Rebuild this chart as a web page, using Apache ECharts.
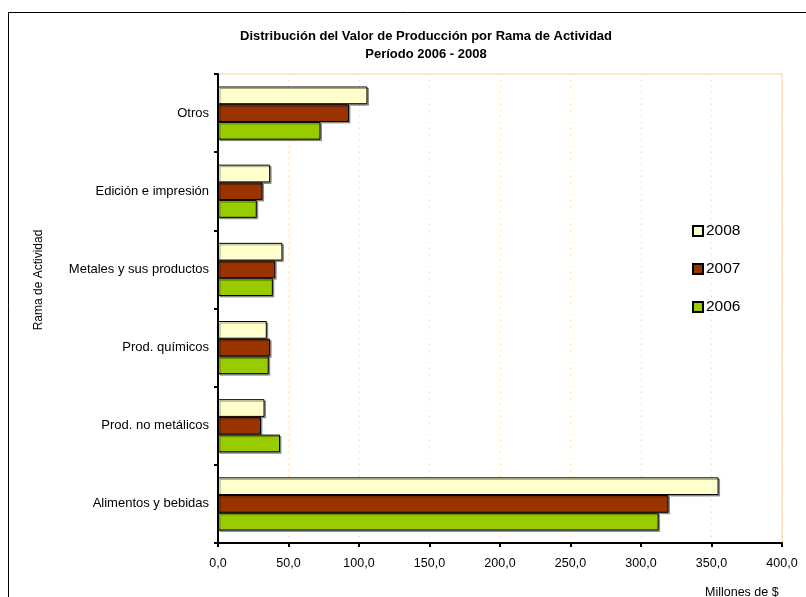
<!DOCTYPE html>
<html><head><meta charset="utf-8">
<script src="https://cdn.jsdelivr.net/npm/echarts@6/dist/echarts.min.js"></script>
<style>html,body{margin:0;padding:0;background:#fff}#c{width:806px;height:597px}</style>
</head><body><div id="c"></div>
<script>
const categories = ['Alimentos y bebidas', 'Prod. no metálicos', 'Prod. químicos', 'Metales y sus productos', 'Edición e impresión', 'Otros'];
const v2006 = [312.5, 44, 36, 38.9, 27.5, 72.7];
const v2007 = [319.5, 30.5, 37, 40.6, 31.6, 92.9];
const v2008 = [355, 33, 34.6, 45.7, 37, 106];
const xTicks = { min: 0, max: 400, interval: 50 };

const chart = echarts.init(document.getElementById('c'), null, { renderer: 'canvas' });
const F = '"Liberation Sans", Arial, sans-serif';
function barSeries(name, data, color) {
  return {
    name, type: 'bar', data, barGap: '0%', barCategoryGap: '32%',
    itemStyle: { color, borderColor: '#000', borderWidth: 1,
      shadowColor: 'rgba(0,0,0,0.35)', shadowOffsetX: 1.5, shadowOffsetY: 1.5, shadowBlur: 0 }
  };
}
chart.setOption({
  animation: false,
  backgroundColor: '#fff',
  title: {
    text: 'Distribución del Valor de Producción por Rama de Actividad\nPeríodo 2006 - 2008',
    left: 421, top: 22, textAlign: 'center',
    textStyle: { fontFamily: F, fontSize: 13, fontWeight: 'bold', color: '#000', lineHeight: 18 }
  },
  graphic: [
    { type: 'rect', shape: { x: 8.5, y: 12.5, width: 820, height: 620 }, style: { fill: 'none', stroke: '#000', lineWidth: 1 }, z: -1 },
    { type: 'text', x: 705, y: 586, style: { text: 'Millones de $', font: '12.5px ' + F, fill: '#000' } },
    { type: 'text', x: 39, y: 280, rotation: Math.PI / 2,
      style: { text: 'Rama de Actividad', font: '12px ' + F, fill: '#000', align: 'center', verticalAlign: 'middle' } }
  ],
  legend: {
    data: ['2008', '2007', '2006'], orient: 'vertical', left: 687, top: 218,
    itemWidth: 10, itemHeight: 10, itemGap: 22,
    textStyle: { fontFamily: F, fontSize: 15.5, color: '#000', padding: [0, 0, 0, -2] },
    icon: 'rect'
  },
  grid: { left: 218, right: 24, top: 74, bottom: 54, show: true, borderColor: '#FFCC99', borderWidth: 1 },
  xAxis: {
    type: 'value', min: xTicks.min, max: xTicks.max, interval: xTicks.interval,
    axisLine: { show: true, lineStyle: { color: '#000', width: 2 } },
    axisTick: { show: true, length: 4, lineStyle: { color: '#000', width: 2 } },
    axisLabel: { fontFamily: F, fontSize: 12.5, color: '#000', margin: 14,
      formatter: v => v.toFixed(1).replace('.', ',') },
    splitLine: { show: true, lineStyle: { color: '#FFCC99', type: [1, 5], width: 1 } }
  },
  yAxis: {
    type: 'category', data: categories,
    axisLine: { show: true, lineStyle: { color: '#000', width: 2 } },
    axisTick: { show: true, length: 4, inside: false, lineStyle: { color: '#000', width: 2 } },
    axisLabel: { fontFamily: F, fontSize: 13, color: '#000', margin: 9 }
  },
  series: [
    barSeries('2008', v2008, '#FFFFCC'),
    barSeries('2007', v2007, '#993300'),
    barSeries('2006', v2006, '#99CC00')
  ]
});
</script></body></html>
